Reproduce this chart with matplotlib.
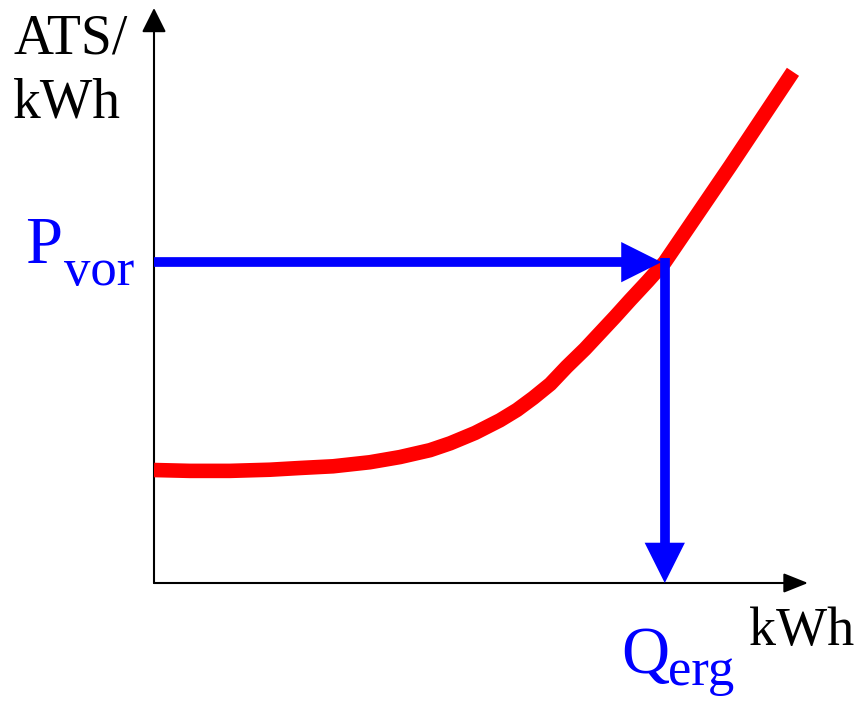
import matplotlib.pyplot as plt
from matplotlib.patches import FancyArrowPatch

plt.rcParams['font.family'] = ['Liberation Serif', 'DejaVu Serif']

# supply curve (kWh, ATS/kWh)
q_curve = [0.0, 0.55, 1.16, 1.77, 2.23, 2.74, 3.30, 3.76, 4.22, 4.53, 4.91, 5.29,
           5.55, 5.80, 6.06, 6.31, 6.59, 6.82, 7.05, 7.28, 7.55, 7.81, 8.81, 9.77]
p_curve = [1.965, 1.95, 1.95, 1.97, 2.00, 2.03, 2.10, 2.19, 2.31, 2.43, 2.61, 2.83,
           3.01, 3.22, 3.46, 3.76, 4.07, 4.35, 4.63, 4.92, 5.25, 5.58, 7.25, 8.89]

# operating point
q_erg = 7.81
p_vor = 5.58

W, H = 856, 703
fig = plt.figure(figsize=(W / 100, H / 100), dpi=100)
ax = fig.add_axes([154 / W, (H - 583) / H, (808 - 154) / W, (583 - 8) / H])
ax.set_xlim(0, 10)
ax.set_ylim(0, 10)
ax.axis('off')

# axes with arrow heads
ax.add_patch(FancyArrowPatch((0, 0), (1, 0), transform=ax.transAxes,
                             arrowstyle='-|>,head_length=1.0,head_width=0.4',
                             mutation_scale=15, lw=1.5, color='black',
                             shrinkA=0, shrinkB=0, clip_on=False))
ax.add_patch(FancyArrowPatch((0, 0), (0, 1), transform=ax.transAxes,
                             arrowstyle='-|>,head_length=1.0,head_width=0.5',
                             mutation_scale=15, lw=1.5, color='black',
                             shrinkA=0, shrinkB=0, clip_on=False))

# red curve
ax.plot(q_curve, p_curve, color='red', lw=10.5, solid_capstyle='butt',
        solid_joinstyle='round', zorder=2)

# blue lines
head = 0.6
ax.plot([0, q_erg - head], [p_vor, p_vor], color='blue', lw=7, solid_capstyle='butt', zorder=3)
ax.plot([q_erg, q_erg], [p_vor + 0.08, head], color='blue', lw=7, solid_capstyle='butt', zorder=3)
ax.add_patch(FancyArrowPatch((q_erg - head - 0.05, p_vor), (q_erg - 0.05, p_vor),
                             arrowstyle='-|>,head_length=1.0,head_width=0.5',
                             mutation_scale=29, lw=0, color='blue',
                             shrinkA=0, shrinkB=0, zorder=3))
ax.add_patch(FancyArrowPatch((q_erg, 0.75), (q_erg, 0),
                             arrowstyle='-|>,head_length=1.0,head_width=0.5',
                             mutation_scale=29, lw=0, color='blue',
                             shrinkA=0, shrinkB=0, zorder=3))

# labels
fig.text(13 / W, 1 - 53 / H, 'ATS/', fontsize=40, color='black', va='baseline')
fig.text(13 / W, 1 - 117 / H, 'kWh', fontsize=40, color='black', va='baseline')
fig.text(749 / W, 1 - 645 / H, 'kWh', fontsize=39, color='black', va='baseline')

fig.text(25 / W, 1 - 263 / H, 'P', fontsize=48, color='blue', va='baseline')
fig.text(64 / W, 1 - 285 / H, 'vor', fontsize=38, color='blue', va='baseline')
fig.text(621 / W, 1 - 673 / H, 'Q', fontsize=48, color='blue', va='baseline')
fig.text(668 / W, 1 - 685 / H, 'erg', fontsize=38, color='blue', va='baseline')

fig.savefig('out.png', dpi=100)
